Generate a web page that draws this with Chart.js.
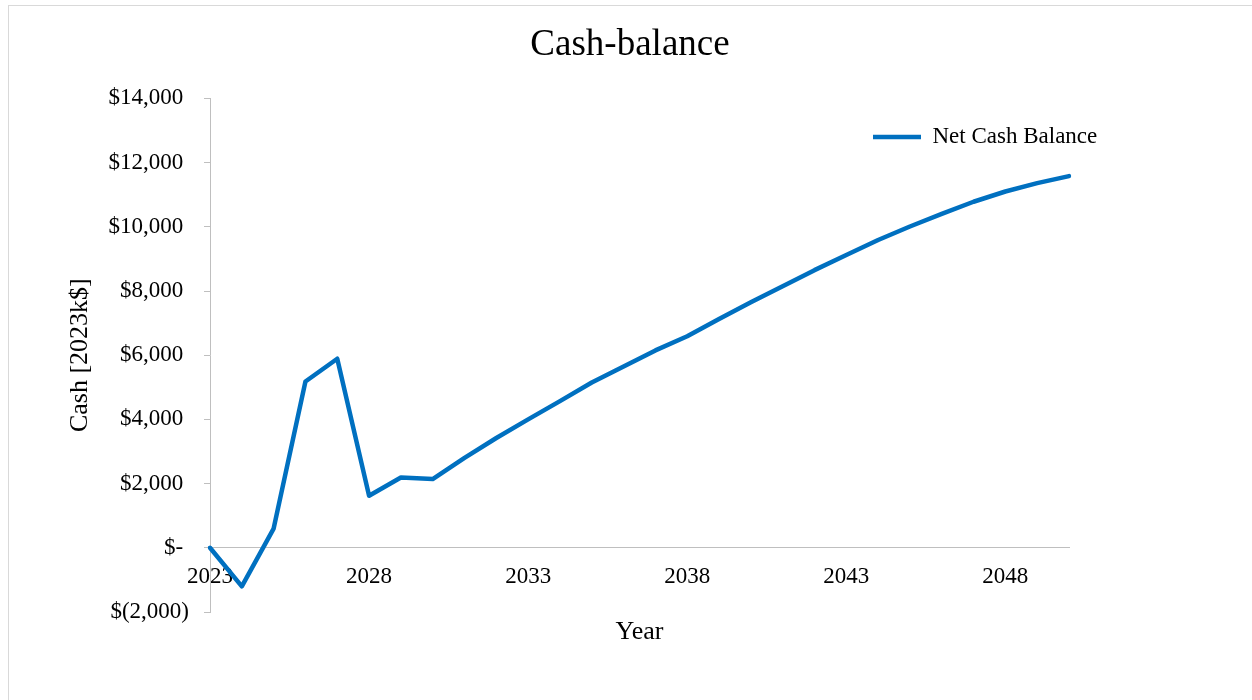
<!DOCTYPE html>
<html>
<head>
<meta charset="utf-8">
<script src="https://cdn.jsdelivr.net/npm/chart.js@4.4.1/dist/chart.umd.min.js"></script>
<style>
  body { margin: 0; background: #fff; overflow: hidden; }
  #wrap { position: relative; width: 1252px; height: 700px; }
  #frame { position: absolute; left: 8px; top: 5px; width: 1260px; height: 720px; border: 1px solid #d9d9d9; pointer-events: none; }
</style>
</head>
<body>
<div id="wrap">
  <canvas id="cashChart" width="1252" height="700"></canvas>
  <div id="frame"></div>
</div>
<script>
// values (2023k$)
const years = [2023, 2024, 2025, 2026, 2027, 2028, 2029, 2030, 2031, 2032,
               2033, 2034, 2035, 2036, 2037, 2038, 2039, 2040, 2041, 2042,
               2043, 2044, 2045, 2046, 2047, 2048, 2049, 2050];
const netCash = [0, -1200, 600, 5180, 5890, 1620, 2190, 2140, 2800, 3420,
                 4000, 4570, 5150, 5650, 6150, 6590, 7130, 7650, 8150, 8650,
                 9120, 9590, 10010, 10400, 10780, 11100, 11360, 11580];
const yMin = -2000;
const yMax = 14000;
const yStep = 2000;
const yearLabelEvery = 5;

const serif = "'Liberation Serif', 'Times New Roman', serif";
Chart.defaults.font.family = serif;
Chart.defaults.color = '#000';

function accounting(v) {
    if (v === 0) return '$- ';
    const s = Math.abs(v).toLocaleString('en-US');
    return v < 0 ? '$(' + s + ')' : '$' + s + ' ';
}

// legend sits in the upper right, partly past the plot edge like the Excel original
const legendPlacer = {
    id: 'legendPlacer',
    afterLayout(chart) {
        const lg = chart.legend;
        const area = chart.chartArea;
        lg.left = area.right - 223;
        lg.right = lg.left + lg.width;
        lg.top = area.top;
    }
};

new Chart(document.getElementById('cashChart'), {
    type: 'line',
    data: {
        labels: years,
        datasets: [{
            label: 'Net Cash Balance',
            data: netCash,
            borderColor: '#0070C0',
            backgroundColor: '#0070C0',
            borderWidth: 4.5,
            borderJoinStyle: 'round',
            borderCapStyle: 'round',
            pointRadius: 0,
            tension: 0,
            fill: false
        }]
    },
    options: {
        responsive: false,
        animation: false,
        devicePixelRatio: 1,
        layout: { padding: { top: 0, left: 8, right: 0, bottom: 88 } },
        scales: {
            x: {
                position: { y: 0 },
                offset: false,
                afterFit: scale => { scale.height = 100; },
                grid: { display: true, drawOnChartArea: false, drawTicks: false },
                border: { display: true, color: '#bfbfbf', width: 1 },
                ticks: {
                    autoSkip: false,
                    maxRotation: 0,
                    padding: 15,
                    font: { size: 23 },
                    callback: (val, i) => (i % yearLabelEvery === 0 ? String(years[i]) : '')
                },
                title: { display: true, text: 'Year', font: { size: 26 }, padding: { top: 0, bottom: 0 } }
            },
            y: {
                min: yMin,
                max: yMax,
                afterFit: scale => { scale.width = 202; },
                grid: { display: true, drawOnChartArea: false, drawTicks: true, tickLength: 6, color: '#bfbfbf' },
                border: { display: true, color: '#bfbfbf', width: 1 },
                ticks: {
                    stepSize: yStep,
                    padding: 15,
                    font: { size: 23 },
                    callback: v => accounting(v)
                },
                title: { display: true, text: 'Cash [2023k$]', font: { size: 26 }, padding: { top: 57, bottom: 0 } }
            },
            // empty right-hand strip so the plot ends where the original does
            yRight: {
                position: 'right',
                display: true,
                afterFit: scale => { scale.width = 183; },
                grid: { display: false },
                border: { display: false },
                ticks: { display: false }
            }
        },
        plugins: {
            title: {
                display: true,
                text: 'Cash-balance',
                color: '#000',
                font: { size: 37, weight: 'normal' },
                padding: { top: 23, bottom: 31 }
            },
            legend: {
                display: true,
                position: 'chartArea',
                align: 'start',
                labels: {
                    usePointStyle: true,
                    pointStyle: 'line',
                    pointStyleWidth: 48,
                    padding: 27,
                    color: '#000',
                    font: { size: 23 }
                }
            },
            tooltip: { enabled: false }
        }
    },
    plugins: [legendPlacer]
});
</script>
</body>
</html>
